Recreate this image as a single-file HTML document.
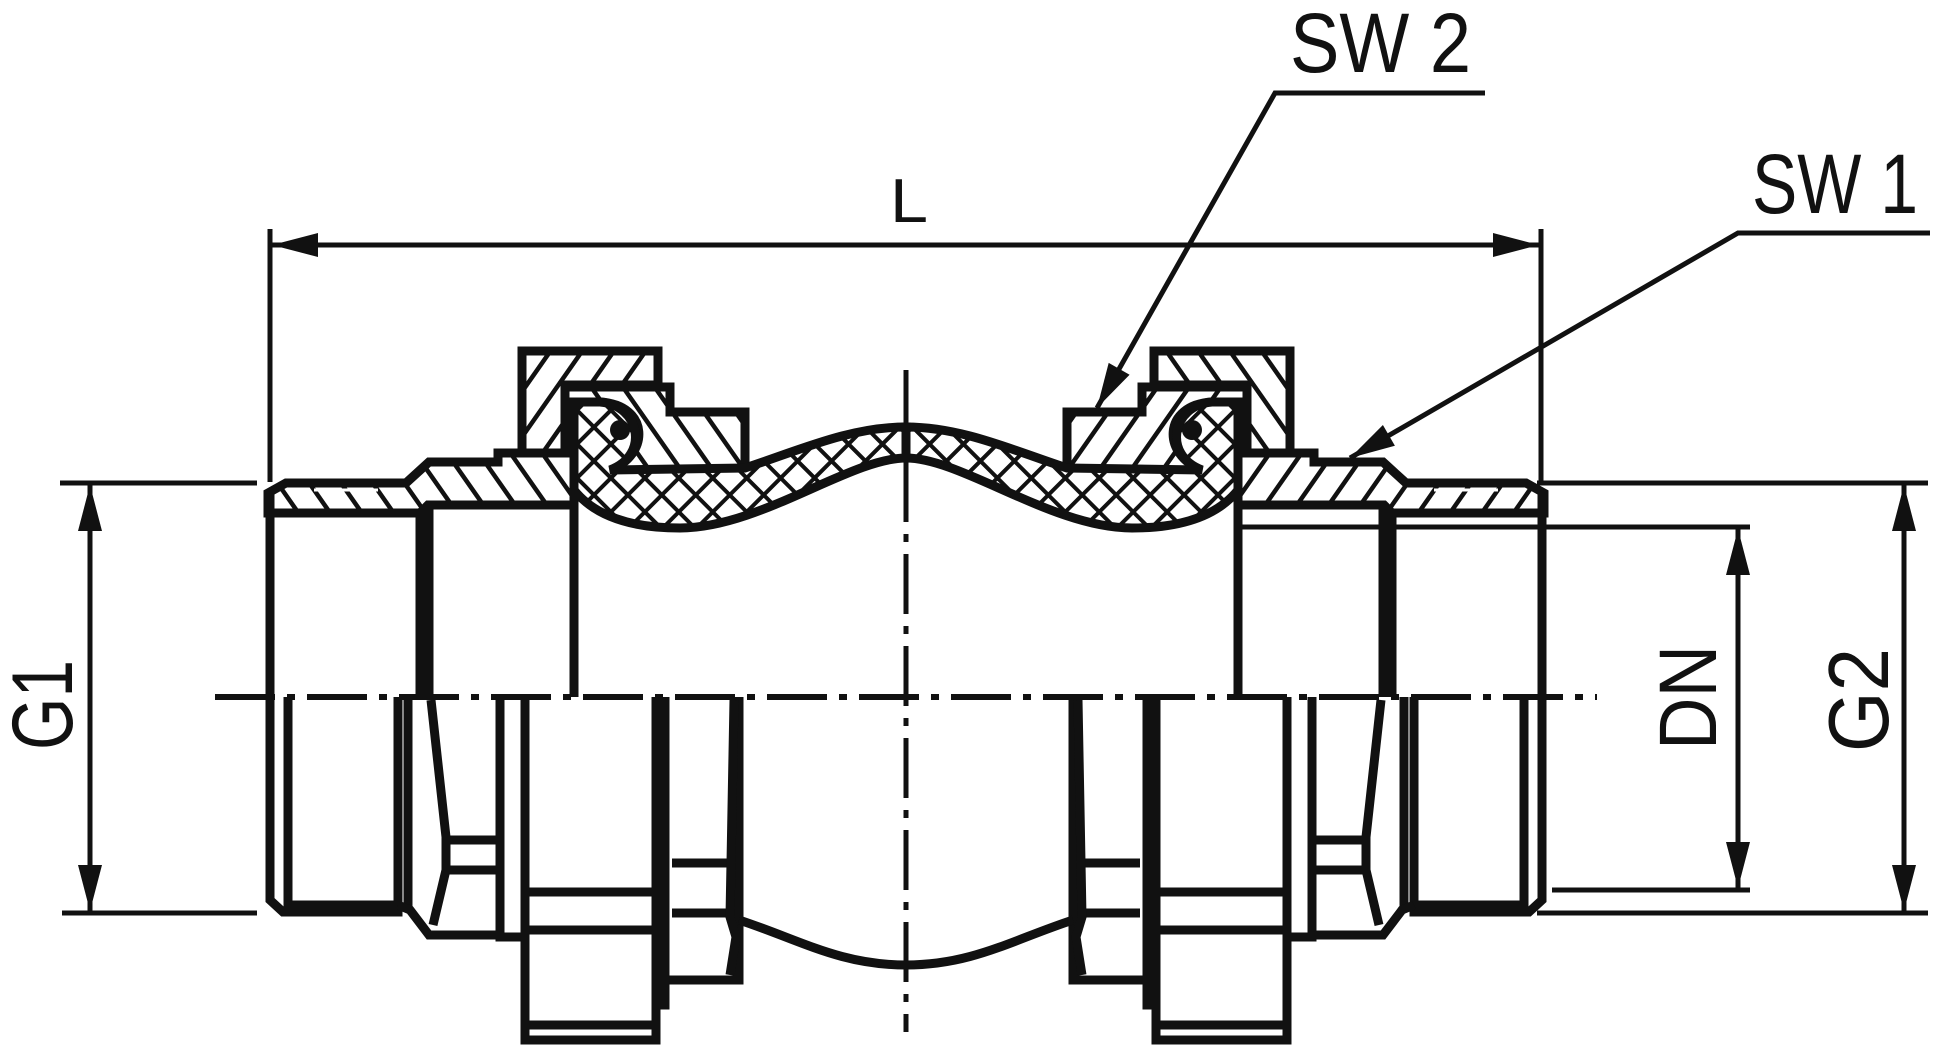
<!DOCTYPE html>
<html><head><meta charset="utf-8"><style>html,body{margin:0;padding:0;background:#fff}svg{display:block}</style></head>
<body>
<svg width="1937" height="1045" viewBox="0 0 1937 1045" xmlns="http://www.w3.org/2000/svg">
<defs>
<pattern id="hA" patternUnits="userSpaceOnUse" width="26" height="26" patternTransform="rotate(35)"><rect width="26" height="26" fill="#fff"/><line x1="0" y1="0" x2="0" y2="26" stroke="#111" stroke-width="9"/></pattern>
<pattern id="hB" patternUnits="userSpaceOnUse" width="26" height="26" patternTransform="rotate(-35)"><rect width="26" height="26" fill="#fff"/><line x1="0" y1="0" x2="0" y2="26" stroke="#111" stroke-width="9"/></pattern>
<pattern id="hX" patternUnits="userSpaceOnUse" width="24" height="24" patternTransform="rotate(45)"><rect width="24" height="24" fill="#fff"/><line x1="0" y1="0" x2="0" y2="24" stroke="#111" stroke-width="8"/><line x1="0" y1="0" x2="24" y2="0" stroke="#111" stroke-width="8"/></pattern>
<g id="half" stroke="#111" stroke-width="9" fill="none" stroke-linejoin="miter">
  <path d="M268,493 L286,483 L406,483 L429,462 L498,462 L498,453 L574,453 L574,505 L428,505 L420,513 L268,513 Z" fill="url(#hB)"/>
  <line x1="290" y1="490" x2="400" y2="490" stroke="#fff" stroke-width="3" stroke-dasharray="16 8"/>
  <path d="M522,351 L658,351 L658,385 L565,385 L565,453 L522,453 Z" fill="url(#hA)"/>
  <path d="M565,387 L670,387 L670,412 L745,412 L745,470 L610,470 C650,455 650,405 600,402 L574,402 L574,453 L565,453 Z" fill="url(#hB)"/>
  <path d="M574,402 L600,402 C640,405 650,455 610,470 L745,468 C800,450 850,427 906,427 L906,458 C850,458 760,528 680,528 C620,528 590,510 574,490 Z" fill="url(#hX)"/>
  <circle cx="620" cy="430" r="10" fill="#111" stroke="none"/>
  <line x1="270" y1="493" x2="270" y2="697"/>
  <line x1="420" y1="513" x2="420" y2="697"/>
  <line x1="429" y1="505" x2="429" y2="697"/>
  <line x1="574" y1="490" x2="574" y2="697"/>
  <path d="M270,697 L270,900 L283,912 L398,912 L398,697"/>
  <path d="M288,697 L288,905 L398,905"/>
  <line x1="408" y1="697" x2="408" y2="912"/>
  <path d="M398,905 L410,910 L429,935 L500,935"/>
  <path d="M431,700 L446,837 L446,870 L433,925"/>
  <line x1="446" y1="840" x2="500" y2="840"/>
  <line x1="446" y1="870" x2="500" y2="870"/>
  <path d="M500,697 L500,937 L525,937"/>
  <path d="M525,697 L525,1040 L656,1040 L656,697"/>
  <line x1="525" y1="892" x2="656" y2="892"/>
  <line x1="525" y1="930" x2="656" y2="930"/>
  <line x1="525" y1="1025" x2="656" y2="1025"/>
  <path d="M665,697 L665,1005 L656,1005"/>
  <path d="M665,980 L739,980 L739,697"/>
  <line x1="672" y1="863" x2="730" y2="863"/>
  <line x1="672" y1="913" x2="730" y2="913"/>
  <path d="M734,700 L730,917 L736,937 L730,975"/>
  <path d="M739,920 C800,940 840,965 906,965"/>
</g>
</defs>
<use href="#half"/>
<use href="#half" transform="translate(1812,0) scale(-1,1)"/>
<line x1="215" y1="697" x2="1597" y2="697" stroke="#111" stroke-width="6" stroke-dasharray="60 12 8 12"/>
<line x1="906" y1="370" x2="906" y2="1032" stroke="#111" stroke-width="5" stroke-dasharray="60 12 8 12"/>
<g stroke="#111" stroke-width="5" fill="none">
  <line x1="270" y1="229" x2="270" y2="482"/>
  <line x1="1541" y1="229" x2="1541" y2="482"/>
  <line x1="272" y1="245" x2="1539" y2="245"/>
  <line x1="60" y1="483" x2="257" y2="483"/>
  <line x1="62" y1="913" x2="257" y2="913"/>
  <line x1="90" y1="485" x2="90" y2="911"/>
  <line x1="1537" y1="483" x2="1928" y2="483"/>
  <line x1="1537" y1="913" x2="1928" y2="913"/>
  <line x1="1904" y1="485" x2="1904" y2="911"/>
  <line x1="1235" y1="527" x2="1750" y2="527"/>
  <line x1="1552" y1="890" x2="1750" y2="890"/>
  <line x1="1738" y1="529" x2="1738" y2="888"/>
  <polyline points="1097,408 1275,93 1485,93"/>
  <polyline points="1350,458 1738,233 1930,233"/>
</g>
<g fill="#111">
  <polygon points="272,245 318,233 318,257"/>
  <polygon points="1539,245 1493,233 1493,257"/>
  <polygon points="90,485 78,531 102,531"/>
  <polygon points="90,911 78,865 102,865"/>
  <polygon points="1904,485 1892,531 1916,531"/>
  <polygon points="1904,911 1892,865 1916,865"/>
  <polygon points="1738,529 1726,575 1750,575"/>
  <polygon points="1738,888 1726,842 1750,842"/>
  <polygon points="1097,408 1129.6,374.7 1108.7,362.9"/>
  <polygon points="1350,458 1394.9,445.8 1382.9,425"/>
</g>
<g font-family="Liberation Sans, sans-serif" fill="#111">
  <text x="890" y="222" font-size="62" textLength="38" lengthAdjust="spacingAndGlyphs">L</text>
  <text x="1290" y="72" font-size="84" textLength="181" lengthAdjust="spacingAndGlyphs">SW 2</text>
  <text x="1752" y="213" font-size="84" textLength="166" lengthAdjust="spacingAndGlyphs">SW 1</text>
  <text transform="translate(72,750) rotate(-90)" font-size="86" textLength="90" lengthAdjust="spacingAndGlyphs">G1</text>
  <text transform="translate(1716,750) rotate(-90)" font-size="82" textLength="105" lengthAdjust="spacingAndGlyphs">DN</text>
  <text transform="translate(1888,752) rotate(-90)" font-size="85" textLength="104" lengthAdjust="spacingAndGlyphs">G2</text>
</g>
</svg>
</body></html>
